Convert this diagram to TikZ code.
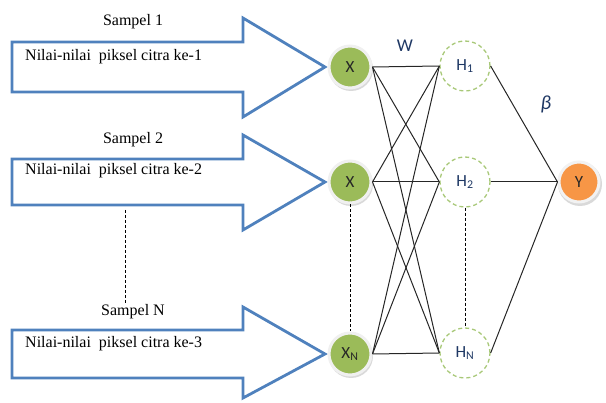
\documentclass[tikz,border=0pt]{standalone}
\usepackage{fontspec}
\setmainfont{Liberation Serif}
\newfontfamily\carlitofont{Carlito}
\definecolor{arrowblue}{HTML}{4F81BD}
\definecolor{xgreen}{HTML}{9BBB59}
\definecolor{hgreen}{HTML}{A8C878}
\definecolor{yorange}{HTML}{F79646}
\definecolor{labblue}{HTML}{1F3864}
\begin{document}
\begin{tikzpicture}[x=1pt,y=-1pt,
  bigarrow/.style={draw=arrowblue,line width=2.8pt,fill=white,line join=miter},
  sample/.style={font=\fontsize{16}{18}\selectfont,inner sep=0pt},
  pixtext/.style={font=\fontsize{16}{18}\selectfont,inner sep=0pt,anchor=west},
  inode/.style={circle,fill=xgreen,draw=gray!12,line width=3pt,minimum size=42pt,inner sep=0pt,
     font=\carlitofont\fontsize{17}{19}\selectfont,text=black!85},
  ynode/.style={circle,fill=yorange,draw=gray!10,line width=3pt,minimum size=40pt,inner sep=0pt,
     font=\carlitofont\fontsize{17}{19}\selectfont,text=black!85},
  hnode/.style={circle,draw=hgreen,line width=1.3pt,dash pattern=on 4pt off 3pt,minimum size=50pt,inner sep=0pt,
     font=\carlitofont\fontsize{17}{19}\selectfont,text=labblue},
  link/.style={draw=black!85,line width=1pt},
  dots/.style={draw=black,line width=0.8pt,dash pattern=on 3pt off 2pt}]
\useasboundingbox (0,0) rectangle (606,403);

% input arrows
\foreach \yc/\bt/\bb/\ht/\hb in {67/42/92/18/117, 182/159/205/135/230, 354/330/378/307/398}{
  \draw[bigarrow] (12,\bt) -- (243,\bt) -- (243,\ht) -- (325,\yc) -- (243,\hb) -- (243,\bb) -- (12,\bb) -- cycle;
}
\node[sample] (s1) at (133,22) {Sampel 1};
\node[sample] (s2) at (133,140) {Sampel 2};
\node[sample] (sN) at (133,312) {Sampel N};
\node[pixtext] (t1) at (25,57) {Nilai-nilai\ \ piksel citra ke-1};
\node[pixtext] (t2) at (25,171) {Nilai-nilai\ \ piksel citra ke-2};
\node[pixtext] (t3) at (25,344) {Nilai-nilai\ \ piksel citra ke-3};
\coordinate (d1) at (125,210);
\draw[dots] (d1) -- (sN.north -| d1);

% shadows
\foreach \p in {(351,69),(351,184),(351,356),(580,184)}{
  \fill[gray!30] \p circle (22);
}
% nodes
\node[inode] (X1) at (350,67) {X};
\node[inode] (X2) at (350,182) {X};
\node[inode] (XN) at (350,354) {X\textsubscript{N}};
\node[hnode] (H1) at (465,66) {H\textsubscript{1}};
\node[hnode] (H2) at (465,182) {H\textsubscript{2}};
\node[hnode] (HN) at (465,353) {H\textsubscript{N}};
\node[ynode] (Y) at (579,182) {Y};

\foreach \a in {X1,X2,XN}{
  \foreach \b in {H1,H2,HN}{
    \draw[link] (\a.east) -- (\b.west);
  }
}
\foreach \b in {H1,H2,HN}{
  \draw[link] (\b.east) -- (Y.west);
}
\draw[dots] (X2.south) -- (XN.north);
\draw[dots] (H2.south) -- (HN.north);

\node[font=\carlitofont\fontsize{18}{20}\selectfont,text=labblue] (W) at (405,46) {W};
\node[font=\carlitofont\itshape\fontsize{20}{22}\selectfont,text=labblue] (beta) at (546,104) {β};
\end{tikzpicture}
\end{document}
